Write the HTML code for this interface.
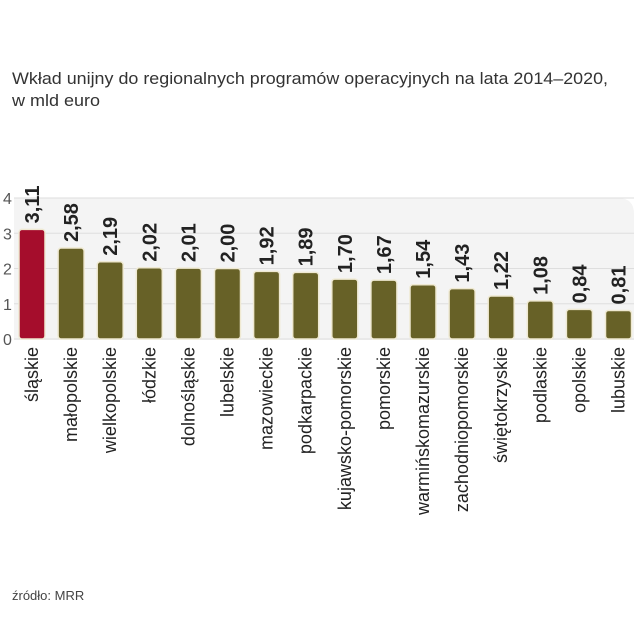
<!DOCTYPE html>
<html><head><meta charset="utf-8"><style>
html,body{margin:0;padding:0;background:#fff;}
svg{display:block;font-family:"Liberation Sans",sans-serif;}
</style></head><body>
<svg id="chart" width="640" height="640" viewBox="0 0 640 640">
<text x="12" y="84" font-size="17" fill="#333" textLength="596" lengthAdjust="spacingAndGlyphs">Wkład unijny do regionalnych programów operacyjnych na lata 2014–2020,</text>
<text x="12" y="106" font-size="17" fill="#333" textLength="88" lengthAdjust="spacingAndGlyphs">w mld euro</text>
<path d="M14 198 H618 Q634 198 634 214 V340 H14 Z" fill="#f4f4f4"/>
<g id="grid"></g>
<g id="bars"></g>
<text x="12" y="600" font-size="13" fill="#444">źródło: MRR</text>
</svg>
<script>
const categories=["śląskie","małopolskie","wielkopolskie","łódzkie","dolnośląskie","lubelskie","mazowieckie","podkarpackie","kujawsko-pomorskie","pomorskie","warmińskomazurskie","zachodniopomorskie","świętokrzyskie","podlaskie","opolskie","lubuskie"];
const values=[3.11,2.58,2.19,2.02,2.01,2.00,1.92,1.89,1.70,1.67,1.54,1.43,1.22,1.08,0.84,0.81];
const valueLabels=["3,11","2,58","2,19","2,02","2,01","2,00","1,92","1,89","1,70","1,67","1,54","1,43","1,22","1,08","0,84","0,81"];
const yTicks=[0,1,2,3,4];
const NS="http://www.w3.org/2000/svg";
const y0=339, unit=35.25;
function y(v){return y0-v*unit;}
function x(i){return 32+i*39.1;}
function mk(t,a,p){const e=document.createElementNS(NS,t);for(const k in a)e.setAttribute(k,a[k]);p.appendChild(e);return e;}
const grid=document.getElementById('grid'), bars=document.getElementById('bars');
yTicks.forEach(t=>{
  const l=mk('line',{x1:14,x2:634,y1:y(t),y2:y(t),stroke:'#dedede','stroke-width':1},grid);
  
  
  const tx=mk('text',{x:3,y:y(t)+6,'font-size':16,fill:'#555'},grid);
  
  
  tx.textContent=t;
});
categories.forEach((c,i)=>{
  const cx=x(i), top=y(values[i]);
  const r=mk('rect',{x:cx-13,y:top,width:26,height:y0-top,rx:3,fill:i===0?'#a50d2c':'#676127',stroke:'#efe9d2','stroke-width':1.5},bars);
  
  
  const v=mk('text',{transform:`translate(${cx+7},${top-6}) rotate(-90)`,'font-size':20,'font-weight':'bold',fill:'#222'},bars);
  
  
  v.textContent=valueLabels[i];
  const lb=mk('text',{transform:`translate(${cx+6},347) rotate(-90)`,'font-size':18,fill:'#222','text-anchor':'end'},bars);
  
  
  lb.textContent=c;
});
</script>
</body></html>
